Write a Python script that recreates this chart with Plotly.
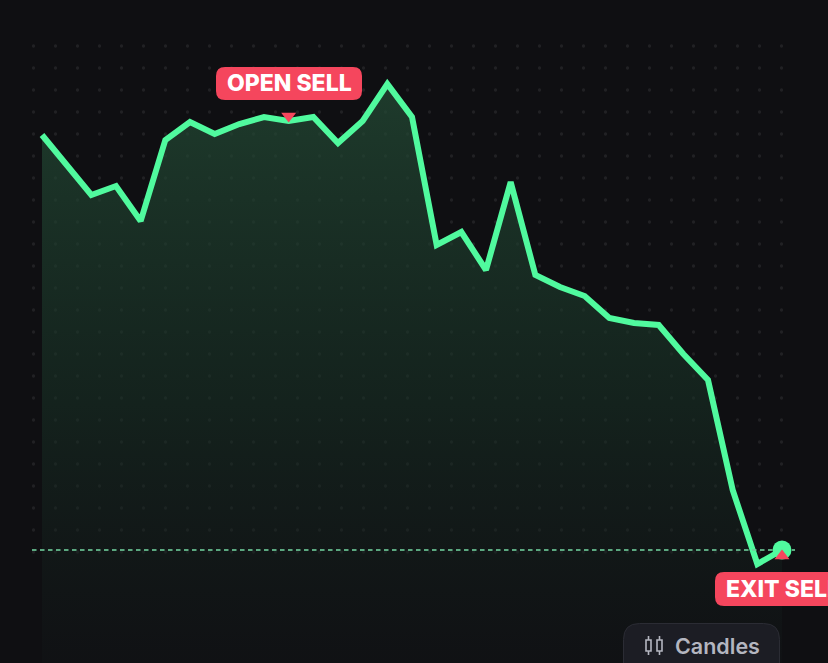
import numpy as np
import plotly.graph_objects as go

W, H = 828, 663
# Chart values (axis units run 0..663 bottom to top)
steps = list(range(31))
price = [528, 498, 468, 477, 442, 523, 541, 529, 539, 546, 542, 546, 520, 542, 579, 546,
         418, 431, 393, 481, 388, 376, 367, 345, 340, 338, 309, 283, 173, 99, 113]
open_step, exit_step = 10, 30
entry_level = 113
labels = ["OPEN SELL", "EXIT SELL"]
button_label = "Candles"

BG = "#0F0F12"
GREEN = "#50FA9E"
RED = "#F5465D"
X0, DX = 42.0, 24.667


def xi(px):
    return (np.asarray(px, dtype=float) - X0) / DX


def pth(x0, y0, x1, y1, r):
    fx = lambda v: v / W
    fy = lambda v: 1 - v / H
    return (f"M{fx(x0+r)},{fy(y0)} L{fx(x1-r)},{fy(y0)} Q{fx(x1)},{fy(y0)} {fx(x1)},{fy(y0+r)} "
            f"L{fx(x1)},{fy(y1-r)} Q{fx(x1)},{fy(y1)} {fx(x1-r)},{fy(y1)} "
            f"L{fx(x0+r)},{fy(y1)} Q{fx(x0)},{fy(y1)} {fx(x0)},{fy(y1-r)} "
            f"L{fx(x0)},{fy(y0+r)} Q{fx(x0)},{fy(y0)} {fx(x0+r)},{fy(y0)} Z")


fig = go.Figure()

# Background dot grid
gx, gy = np.meshgrid(np.arange(33.5, 790, 22), np.arange(46, 560, 22))
fig.add_trace(go.Scatter(x=xi(gx.ravel()), y=H - gy.ravel(), mode="markers", hoverinfo="skip",
                         marker=dict(size=3.5, color="rgba(255,255,255,0.08)")))

# Area + line
fig.add_trace(go.Scatter(
    x=steps, y=price, mode="lines", fill="tozeroy",
    line=dict(color=GREEN, width=6, shape="linear"),
    fillgradient=dict(type="vertical", start=579, stop=0,
                      colorscale=[[0, "rgba(36,76,54,0.72)"], [0.55, "rgba(24,50,38,0.55)"],
                                  [1, "rgba(18,22,24,0.35)"]]),
))

# Entry level dashed line
fig.add_trace(go.Scatter(x=xi([32, 795]), y=[entry_level, entry_level], mode="lines", hoverinfo="skip",
                         line=dict(color="rgba(110,205,155,0.8)", width=2, dash="4.5px,3.5px")))

# End point and trade markers
fig.add_trace(go.Scatter(x=[exit_step], y=[price[exit_step]], mode="markers",
                         marker=dict(size=19, color=GREEN)))
fig.add_trace(go.Scatter(x=[open_step, exit_step], y=[price[open_step] + 5, price[exit_step] - 6],
                         mode="markers",
                         marker=dict(size=13, color=RED, symbol=["triangle-down", "triangle-up"])))

shapes = [
    dict(type="path", xref="paper", yref="paper", path=pth(216, 67, 362, 100, 9),
         fillcolor=RED, line_width=0),
    dict(type="path", xref="paper", yref="paper", path=pth(715, 572, 850, 606, 9),
         fillcolor=RED, line_width=0),
    dict(type="path", xref="paper", yref="paper", path=pth(623.5, 623.5, 779.5, 690, 16),
         fillcolor="#1C1D24", line=dict(color="#2B2C34", width=1)),
]
ICON = "#B4B6C0"
for cx in (648.5, 659.5):
    shapes.append(dict(type="line", xref="paper", yref="paper", x0=cx / W, x1=cx / W,
                       y0=1 - 636 / H, y1=1 - 655 / H, line=dict(color=ICON, width=1.6)))
    shapes.append(dict(type="rect", xref="paper", yref="paper", x0=(cx - 2.5) / W, x1=(cx + 2.5) / W,
                       y0=1 - 640 / H, y1=1 - 651 / H, fillcolor="#1C1D24",
                       line=dict(color=ICON, width=1.6)))

annotations = [
    dict(text=labels[0], xref="paper", yref="paper", x=289 / W, y=1 - 83 / H,
         xanchor="center", yanchor="middle", showarrow=False,
         font=dict(family="Inter", size=23, weight=800, color="white")),
    dict(text=labels[1], xref="paper", yref="paper", x=724 / W, y=1 - 589 / H,
         xanchor="left", yanchor="middle", showarrow=False,
         font=dict(family="Inter", size=23, weight=800, color="white")),
    dict(text=button_label, xref="paper", yref="paper", x=673 / W, y=1 - 646 / H,
         xanchor="left", yanchor="middle", showarrow=False,
         font=dict(family="Inter", size=21.5, weight=600, color=ICON)),
]

fig.update_layout(
    width=W, height=H, margin=dict(l=0, r=0, t=0, b=0, pad=0), showlegend=False,
    paper_bgcolor=BG, plot_bgcolor=BG, shapes=shapes, annotations=annotations,
    xaxis=dict(range=[float(xi(0)), float(xi(W))], visible=False, fixedrange=True),
    yaxis=dict(range=[0, H], visible=False, fixedrange=True),
)
fig.write_html("out.html", config={"displayModeBar": False},
               post_script="document.body.style.margin='0';document.body.style.background='#0F0F12';")
